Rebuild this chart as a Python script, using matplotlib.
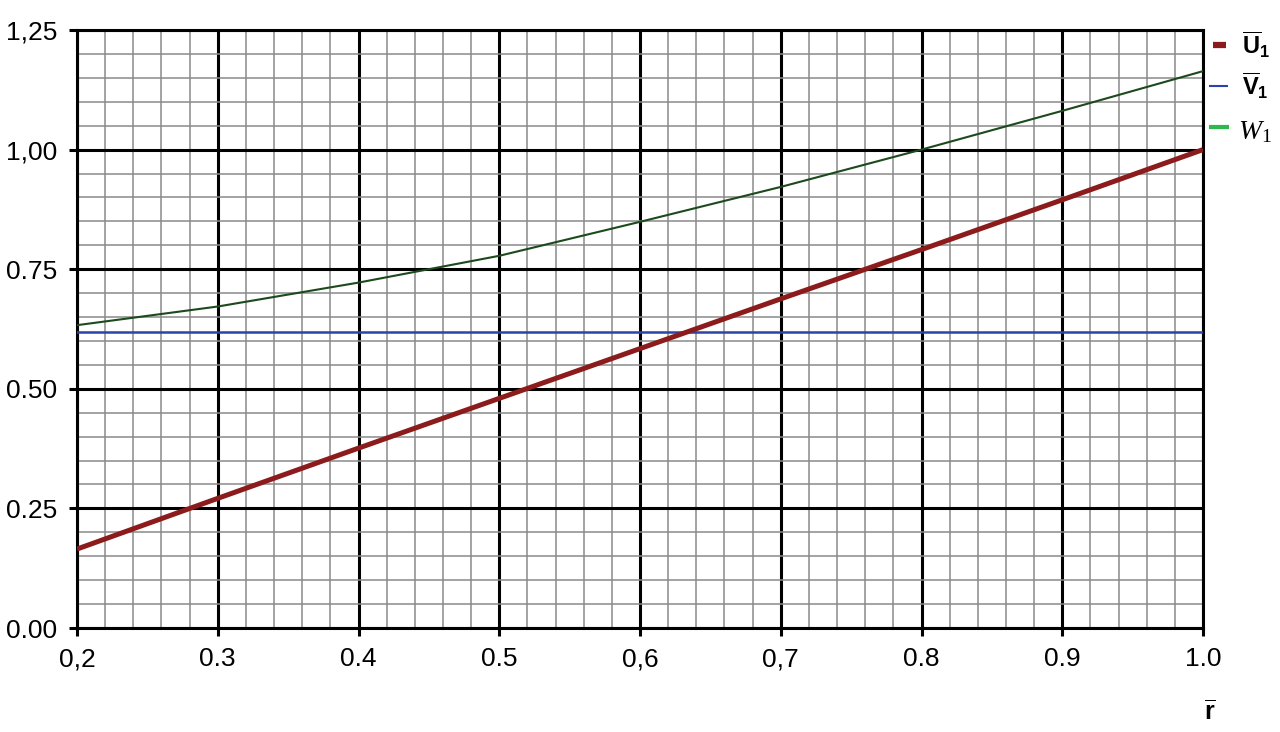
import matplotlib
matplotlib.use("Agg")
import matplotlib.pyplot as plt
from matplotlib.lines import Line2D
from matplotlib.ticker import MultipleLocator

plt.rcParams['font.family'] = ['Liberation Sans', 'DejaVu Sans']
plt.rcParams['mathtext.fontset'] = 'custom'
plt.rcParams['mathtext.rm'] = 'Liberation Serif'
plt.rcParams['mathtext.it'] = 'Liberation Serif:italic'
plt.rcParams['mathtext.bf'] = 'Liberation Sans:bold'

r = [0.2, 0.3, 0.4, 0.5, 0.6, 0.7, 0.8, 0.9, 1.0]
U1 = [0.165, 0.271, 0.376, 0.480, 0.584, 0.688, 0.791, 0.895, 1.0]
V1 = [0.618, 0.618, 0.618, 0.618, 0.618, 0.618, 0.618, 0.618, 0.618]
W1 = [0.633, 0.672, 0.722, 0.778, 0.849, 0.922, 1.0, 1.081, 1.164]

xticks = [0.2, 0.3, 0.4, 0.5, 0.6, 0.7, 0.8, 0.9, 1.0]
xticklabels = ['0,2', '0.3', '0.4', '0.5', '0,6', '0,7', '0.8', '0.9', '1.0']
yticks = [0.0, 0.25, 0.5, 0.75, 1.0, 1.25]
yticklabels = ['0.00', '0.25', '0.50', '0.75', '1,00', '1,25']
legend_labels = [r'$\overline{\mathbf{U}}_{\mathbf{1}}$',
                 r'$\overline{\mathbf{V}}_{\mathbf{1}}$',
                 r'$W_{1}$']

W, H = 1280, 732
fig = plt.figure(figsize=(12.8, 7.32), dpi=100)
ax = fig.add_axes([77/W, 104/H, 1126/W, 598/H])

ax.plot(r, V1, color='#2a44a8', lw=1.8, zorder=4)
ax.plot(r, W1, color='#1c4a1c', lw=1.5, zorder=4)
ax.plot(r, U1, color='#8c1c1c', lw=3.6, zorder=5, solid_capstyle='butt')

ax.set_xlim(0.2, 1.0)
ax.set_ylim(0.0, 1.25)
ax.set_xticks(xticks)
ax.set_xticklabels(xticklabels)
ax.set_yticks(yticks)
ax.set_yticklabels(yticklabels)
ax.xaxis.set_minor_locator(MultipleLocator(0.02))
ax.yaxis.set_minor_locator(MultipleLocator(0.05))
ax.grid(which='major', color='black', lw=2.2, zorder=2)
ax.grid(which='minor', color='#8a8a8a', lw=1.1, zorder=1)
ax.set_axisbelow(True)
ax.tick_params(which='major', direction='out', length=6, width=2.2,
               labelsize=19, colors='black', pad=8)
ax.tick_params(which='minor', length=0)
for s in ax.spines.values():
    s.set_linewidth(2.2)
    s.set_color('black')

# manual legend outside the axes on the right
def fx(px):
    return px / W

def fy(py):
    return 1 - py / H

fig.add_artist(Line2D([fx(1213), fx(1226)], [fy(45), fy(45)], color='#8c1c1c',
                      lw=4.5, solid_capstyle='butt', transform=fig.transFigure))
fig.add_artist(Line2D([fx(1209), fx(1228)], [fy(86), fy(86)], color='#2a44a8',
                      lw=1.5, solid_capstyle='butt', transform=fig.transFigure))
fig.add_artist(Line2D([fx(1209), fx(1229)], [fy(127), fy(127)], color='#2db84a',
                      lw=3, solid_capstyle='butt', transform=fig.transFigure))
fig.text(fx(1242), fy(45), legend_labels[0], fontsize=17, ha='left', va='center')
fig.text(fx(1242), fy(86), legend_labels[1], fontsize=17, ha='left', va='center')
fig.text(fx(1238), fy(132), legend_labels[2], fontsize=20, ha='left', va='center')

fig.text(fx(1210), fy(712), r'$\overline{\mathbf{r}}$', fontsize=18,
         ha='center', va='center')

fig.savefig('out.png', dpi=100)
